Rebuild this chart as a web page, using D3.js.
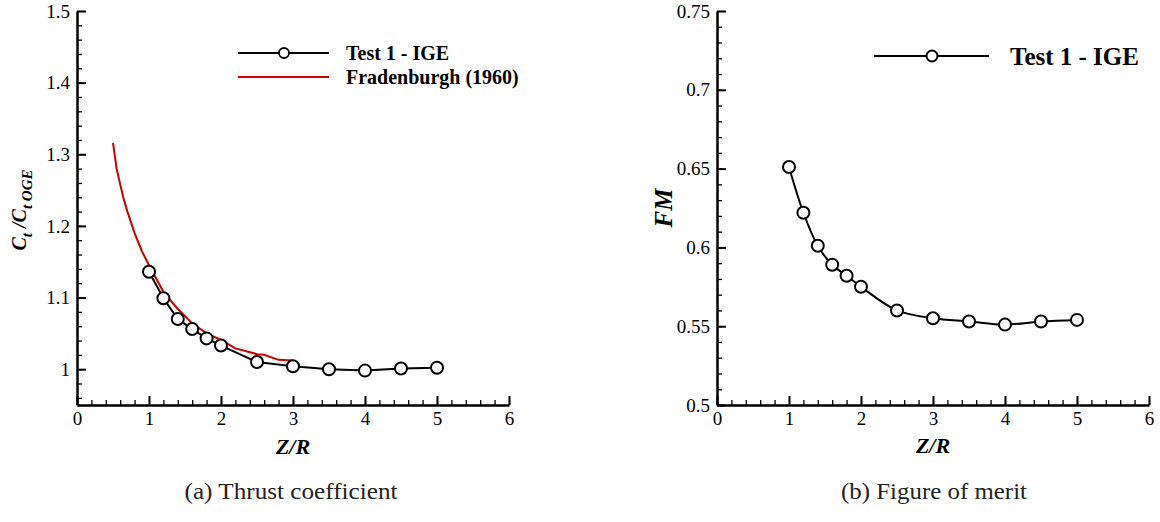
<!DOCTYPE html>
<html>
<head>
<meta charset="utf-8">
<script src="https://cdn.jsdelivr.net/npm/d3@7"></script>
<style>
  html, body { margin: 0; padding: 0; background: #fff; }
  svg { display: block; }
</style>
</head>
<body>
<svg id="chart" width="1160" height="522"></svg>
<script>
// ---------- data ----------
const zrTest = [1, 1.2, 1.4, 1.6, 1.8, 2, 2.5, 3, 3.5, 4, 4.5, 5];
const ctRatioTest = [1.136, 1.099, 1.070, 1.056, 1.043, 1.033, 1.010, 1.004, 1.000, 0.998, 1.001, 1.002];
const zrFraden = [0.5, 0.55, 0.6, 0.65, 0.7, 0.8, 0.9, 1.0, 1.2, 1.4, 1.6, 1.8, 2.0, 2.2, 2.5, 2.6, 2.8, 3.0];
const ctRatioFraden = [1.316, 1.28, 1.258, 1.237, 1.220, 1.190, 1.165, 1.145, 1.108, 1.084, 1.064, 1.050, 1.041, 1.029, 1.021, 1.020, 1.013, 1.012];
const fmTest = [0.651, 0.622, 0.601, 0.589, 0.582, 0.575, 0.560, 0.555, 0.553, 0.551, 0.553, 0.554];

const xTicks = [0, 1, 2, 3, 4, 5, 6];
const yTicksLeft = [1, 1.1, 1.2, 1.3, 1.4, 1.5];
const yTicksRight = [0.5, 0.55, 0.6, 0.65, 0.7, 0.75];
const legendLeft = ["Test 1 - IGE", "Fradenburgh (1960)"];
const legendRight = ["Test 1 - IGE"];
const captions = ["(a) Thrust coefficient", "(b) Figure of merit"];

// ---------- setup ----------
const svg = d3.select("#chart");
const serif = '"Liberation Serif", "Times New Roman", serif';
const red = "#cc0000";

function drawAxes(x, y, xMajor, xMinor, yMajor, yMinor, yFmt) {
  const g = svg.append("g");
  const x0 = x.range()[0], y0 = y.range()[0];
  g.append("g").attr("transform", `translate(0,${y0})`)
    .call(d3.axisBottom(x).tickValues(xMinor).tickSizeInner(-5).tickSizeOuter(0).tickFormat(""))
    .call(s => s.select(".domain").remove())
    .call(s => s.selectAll("line").attr("stroke-width", 1.3));
  g.append("g").attr("transform", `translate(${x0},0)`)
    .call(d3.axisLeft(y).tickValues(yMinor).tickSizeInner(-5).tickSizeOuter(0).tickFormat(""))
    .call(s => s.select(".domain").remove())
    .call(s => s.selectAll("line").attr("stroke-width", 1.3));
  g.append("g").attr("transform", `translate(0,${y0})`)
    .call(d3.axisBottom(x).tickValues(xMajor).tickSizeInner(-9).tickSizeOuter(0).tickPadding(7).tickFormat(d3.format("d")))
    .call(s => s.select(".domain").attr("stroke-width", 2.5))
    .call(s => s.selectAll("line").attr("stroke-width", 2));
  g.append("g").attr("transform", `translate(${x0},0)`)
    .call(d3.axisLeft(y).tickValues(yMajor).tickSizeInner(-9).tickSizeOuter(0).tickPadding(7).tickFormat(yFmt))
    .call(s => s.select(".domain").attr("stroke-width", 2.5))
    .call(s => s.selectAll("line").attr("stroke-width", 2));
  g.selectAll("g").attr("font-family", null).attr("font-size", null);
  g.selectAll(".tick text").style("font-family", serif).style("font-size", "19px").attr("fill", "#000");
}

function rangeStep(a, b, s) {
  const out = [];
  for (let i = 0; a + i * s <= b + 1e-9; i++) out.push(+(a + i * s).toFixed(4));
  return out;
}

const fmtTrim = d => String(+d.toFixed(3));

// ---------- left plot ----------
const xL = d3.scaleLinear().domain([0, 6]).range([77, 509]);
const yL = d3.scaleLinear().domain([0.95, 1.5]).range([405, 11]);
drawAxes(xL, yL, xTicks, rangeStep(0, 6, 0.2), yTicksLeft, rangeStep(0.96, 1.5, 0.02), fmtTrim);

const lineL = d3.line().x(d => xL(d[0])).y(d => yL(d[1]));
svg.append("path")
  .attr("d", lineL(d3.zip(zrFraden, ctRatioFraden)))
  .attr("fill", "none").attr("stroke", red).attr("stroke-width", 2);
svg.append("path")
  .attr("d", lineL(d3.zip(zrTest, ctRatioTest)))
  .attr("fill", "none").attr("stroke", "#000").attr("stroke-width", 2);
svg.append("g").selectAll("circle").data(d3.zip(zrTest, ctRatioTest)).join("circle")
  .attr("cx", d => xL(d[0])).attr("cy", d => yL(d[1])).attr("r", 6)
  .attr("fill", "#fff").attr("stroke", "#000").attr("stroke-width", 2);

// left legend
const legL = svg.append("g");
legL.append("line").attr("x1", 238).attr("x2", 329).attr("y1", 53).attr("y2", 53).attr("stroke", "#000").attr("stroke-width", 2);
legL.append("circle").attr("cx", 284).attr("cy", 53).attr("r", 5).attr("fill", "#fff").attr("stroke", "#000").attr("stroke-width", 1.8);
legL.append("line").attr("x1", 238).attr("x2", 329).attr("y1", 77).attr("y2", 77).attr("stroke", red).attr("stroke-width", 2);
legL.selectAll("text").data(legendLeft).join("text")
  .attr("x", 346).attr("y", (d, i) => 59.5 + i * 24)
  .style("font-family", serif).style("font-size", "20px").style("font-weight", "bold")
  .text(d => d);

// left axis titles
svg.append("text").attr("x", xL(3)).attr("y", 454).attr("text-anchor", "middle")
  .style("font-family", serif).style("font-size", "22px").style("font-weight", "bold").style("font-style", "italic")
  .text("Z/R");
const yTitle = svg.append("text").attr("transform", "translate(26,210) rotate(-90)").attr("text-anchor", "middle")
  .style("font-family", serif).style("font-size", "20px").style("font-weight", "bold").style("font-style", "italic");
yTitle.append("tspan").text("C");
yTitle.append("tspan").attr("dy", 6).style("font-size", "15px").text("t");
yTitle.append("tspan").attr("dy", -6).text(" /C");
yTitle.append("tspan").attr("dy", 6).style("font-size", "15px").text("t OGE");

// ---------- right plot ----------
const xR = d3.scaleLinear().domain([0, 6]).range([717, 1149]);
const yR = d3.scaleLinear().domain([0.5, 0.75]).range([405, 11]);
drawAxes(xR, yR, xTicks, rangeStep(0, 6, 0.2), yTicksRight, rangeStep(0.5, 0.75, 0.01), fmtTrim);

const lineR = d3.line().x(d => xR(d[0])).y(d => yR(d[1])).curve(d3.curveCatmullRom.alpha(0.5));
svg.append("path")
  .attr("d", lineR(d3.zip(zrTest, fmTest)))
  .attr("fill", "none").attr("stroke", "#000").attr("stroke-width", 2);
svg.append("g").selectAll("circle").data(d3.zip(zrTest, fmTest)).join("circle")
  .attr("cx", d => xR(d[0])).attr("cy", d => yR(d[1])).attr("r", 6)
  .attr("fill", "#fff").attr("stroke", "#000").attr("stroke-width", 2);

// right legend
const legR = svg.append("g");
legR.append("line").attr("x1", 874).attr("x2", 989).attr("y1", 56).attr("y2", 56).attr("stroke", "#000").attr("stroke-width", 2);
legR.append("circle").attr("cx", 932).attr("cy", 56).attr("r", 5.5).attr("fill", "#fff").attr("stroke", "#000").attr("stroke-width", 2);
legR.selectAll("text").data(legendRight).join("text")
  .attr("x", 1010).attr("y", 64.5)
  .style("font-family", serif).style("font-size", "25px").style("font-weight", "bold")
  .text(d => d);

svg.append("text").attr("x", xR(3)).attr("y", 453).attr("text-anchor", "middle")
  .style("font-family", serif).style("font-size", "22px").style("font-weight", "bold").style("font-style", "italic")
  .text("Z/R");
svg.append("text").attr("transform", "translate(672,208) rotate(-90)").attr("text-anchor", "middle")
  .style("font-family", serif).style("font-size", "25px").style("font-weight", "bold").style("font-style", "italic")
  .text("FM");

// ---------- captions ----------
const capX = [291, 934];
const capW = [213, 186];
svg.selectAll("text.caption").data(captions).join("text").attr("class", "caption")
  .attr("x", (d, i) => capX[i]).attr("y", 499).attr("text-anchor", "middle")
  .attr("textLength", (d, i) => capW[i]).attr("lengthAdjust", "spacingAndGlyphs")
  .style("font-family", serif).style("font-size", "23px").attr("fill", "#222")
  .text(d => d);
</script>
</body>
</html>
